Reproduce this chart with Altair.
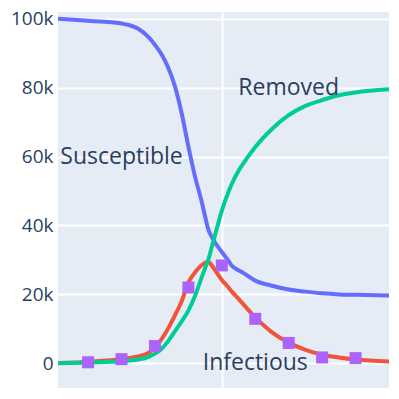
import altair as alt
import pandas as pd

# Simulated SIR curves (days, values in people)
days = [1, 10, 15, 20, 22, 25, 28, 30, 32, 34, 36, 38, 40, 42, 44, 45, 46, 47, 48, 50, 52, 53, 55, 56, 60, 65, 70, 75, 80, 85, 90, 100]
susceptible = [100000, 99400, 99100, 98600, 98200, 97100, 94700, 92400, 89600, 85700, 80300, 72500, 62900, 54100, 46800, 42600, 38700, 36700, 35000, 32300, 29700, 28300, 27000, 26500, 24000, 22500, 21400, 20800, 20300, 20000, 19900, 19700]
infectious = [100, 400, 800, 1200, 1500, 2000, 3000, 4600, 7000, 10200, 14000, 18000, 23500, 26400, 28500, 29200, 29500, 28400, 27000, 24200, 22000, 20800, 18700, 17600, 13300, 9000, 6000, 3900, 2500, 1700, 1100, 500]
removed = [0, 200, 400, 600, 800, 1100, 1800, 2800, 4200, 6500, 9300, 12200, 15300, 19600, 25000, 27600, 30200, 33800, 37300, 44300, 49800, 52100, 55900, 57400, 62800, 68000, 72000, 74700, 76400, 77800, 78600, 79500]

# Observed infectious counts
obs_days = [10, 20, 30, 40, 50, 60, 70, 80, 90]
obs_infectious = [300, 1200, 5000, 22000, 28400, 12900, 5900, 1700, 1500]

# Annotations
label_text = ["Susceptible", "Removed", "Infectious"]
label_day = [20, 70, 60]
label_value = [60000, 80000, 0]

y_ticks = [0, 20000, 40000, 60000, 80000, 100000]

curves = pd.DataFrame({"day": days, "S": susceptible, "I": infectious, "R": removed})
obs = pd.DataFrame({"day": obs_days, "value": obs_infectious})
labels = pd.DataFrame({"text": label_text, "day": label_day, "value": label_value})

FONT = "Open Sans"
TXT = "#2a3f5f"

xscale = alt.Scale(domain=[1, 100], nice=False, zero=False)
yscale = alt.Scale(domain=[-7170, 101950], nice=False, zero=False)

xaxis = alt.Axis(values=[50], labels=False, ticks=False, domain=False, title=None,
                 grid=True, gridColor="white", gridWidth=2)
yaxis = alt.Axis(values=y_ticks, ticks=False, domain=False, title=None,
                 labelExpr="datum.value == 0 ? '0' : format(datum.value / 1000, 'd') + 'k'",
                 grid=True, gridColor="white", gridWidth=2, labelFont=FONT,
                 labelFontSize=19, labelColor=TXT, labelPadding=5)

base = alt.Chart(curves)

def line(col, color):
    return base.mark_line(color=color, strokeWidth=4, interpolate="monotone").encode(
        x=alt.X("day:Q", scale=xscale, axis=xaxis),
        y=alt.Y(f"{col}:Q", scale=yscale, axis=yaxis),
    )

s_line = line("S", "#636EFA")
i_line = line("I", "#EF553B")
r_line = line("R", "#00CC96")

pts = alt.Chart(obs).mark_square(size=144, color="#AB63FA", opacity=1).encode(
    x=alt.X("day:Q", scale=xscale),
    y=alt.Y("value:Q", scale=yscale),
)

txt = alt.Chart(labels).mark_text(font=FONT, fontSize=23, color=TXT, align="center",
                                  baseline="middle").encode(
    x=alt.X("day:Q", scale=xscale),
    y=alt.Y("value:Q", scale=yscale),
    text="text:N",
)

chart = alt.layer(s_line, i_line, r_line, pts, txt).properties(
    width=331, height=376,
    autosize=alt.AutoSizeParams(type="none"),
    padding={"left": 50, "top": 4, "right": 0, "bottom": 0},
).configure_view(fill="#E5ECF6", stroke=None)

chart.save("out.html", embed_options={"renderer": "svg", "actions": False})
